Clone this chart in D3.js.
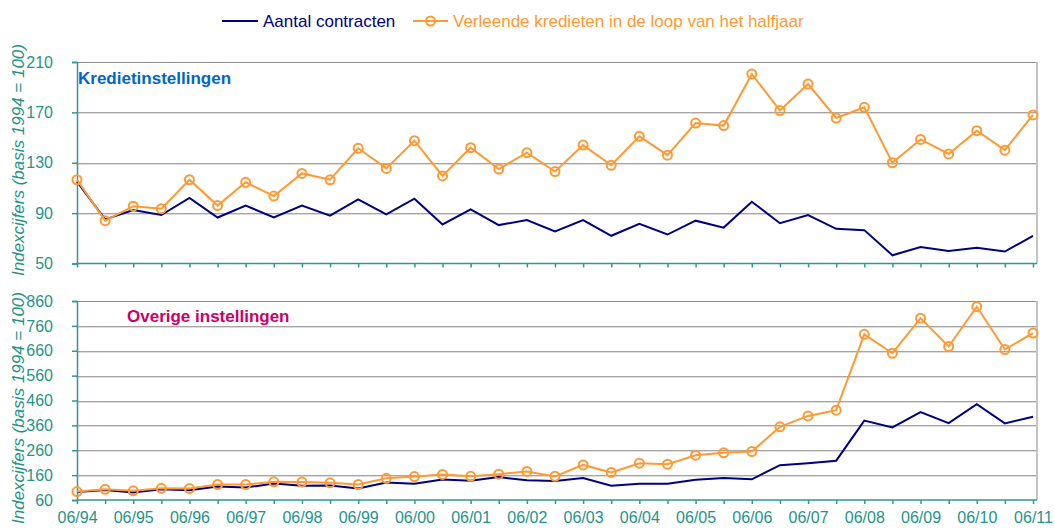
<!DOCTYPE html>
<html>
<head>
<meta charset="utf-8">
<script src="https://cdn.jsdelivr.net/npm/d3@7"></script>
<style>
  body { margin: 0; background: #fff; }
  svg { font-family: "Liberation Sans", Arial, sans-serif; }
  .tick text { fill: #1f9488; font-size: 16px; }
</style>
</head>
<body>
<div id="chart"></div>
<script>
// half-year periods
var periods = ["06/94","12/94","06/95","12/95","06/96","12/96","06/97","12/97","06/98","12/98",
  "06/99","12/99","06/00","12/00","06/01","12/01","06/02","12/02","06/03","12/03",
  "06/04","12/04","06/05","12/05","06/06","12/06","06/07","12/07","06/08","12/08",
  "06/09","12/09","06/10","12/10","06/11"]

// Kredietinstellingen
var kredietContracten = [115, 85, 92.5, 88.5, 102, 86.5, 96, 86.5, 96, 88, 101, 89, 101.5, 81, 93, 80.5, 84.5,
  75.5, 84.5, 72, 81.5, 73, 84, 78.5, 99, 82, 88.5, 77.5, 76.5, 56.5, 63, 60, 62.5, 59.5, 72]
var kredietVerleend = [116.5, 84, 95.5, 93.5, 116.5, 96, 114.5, 103.5, 121.5, 116.5, 141.5, 125.5, 147.5, 119.5, 142, 125, 138,
  123, 144, 128, 151, 136, 161.5, 159.5, 200.5, 171.5, 192.5, 165.5, 174, 130, 148.5, 137, 155.5, 140, 168]

// Overige instellingen
var overigContracten = [92, 100, 90, 103, 99, 114, 110, 126, 117, 118, 106, 130, 125, 142, 137, 152, 139,
  136, 148, 117, 125, 125, 141, 148, 143, 200, 208, 218, 379, 352, 413, 369, 445, 368, 395]
var overigVerleend = [94, 103, 97, 107, 106, 122, 122, 133, 132, 129, 122, 147, 154, 163, 155, 164, 175,
  155, 201, 171, 208, 204, 240, 250, 255, 354, 398, 421, 726, 650, 791, 677, 837, 665, 731]

var topTicks = [50, 90, 130, 170, 210]
var bottomTicks = [60, 160, 260, 360, 460, 560, 660, 760, 860]

var blue = "#000080", orange = "#ff9933", teal = "#2e9990"

var width = 1055, height = 532
var plotLeft = 77, plotWidth = 960, xSpan = 956

var svg = d3.select("#chart").append("svg")
  .attr("width", width)
  .attr("height", height)

var x = d3.scalePoint()
  .domain(periods)
  .range([0, xSpan])

// legend
var legend = svg.append("g").attr("transform", "translate(222,21)")
legend.append("line").attr("x1", 0).attr("x2", 36).attr("y1", 0).attr("y2", 0)
  .attr("stroke", blue).attr("stroke-width", 2)
legend.append("text").attr("x", 41).attr("y", 6).attr("fill", blue)
  .style("font-size", "17px").text("Aantal contracten")
legend.append("line").attr("x1", 191).attr("x2", 226).attr("y1", 0).attr("y2", 0)
  .attr("stroke", orange).attr("stroke-width", 2)
legend.append("circle").attr("cx", 208.5).attr("cy", 0).attr("r", 4.5)
  .attr("fill", "none").attr("stroke", orange).attr("stroke-width", 2)
legend.append("text").attr("x", 231).attr("y", 6).attr("fill", orange)
  .style("font-size", "17px").text("Verleende kredieten in de loop van het halfjaar")

function drawPanel(opts) {
  var h = opts.height
  var y = d3.scaleLinear().domain(opts.domain).range([h, 0])

  var g = svg.append("g")
    .attr("transform", "translate(" + plotLeft + "," + opts.top + ")")

  // grid lines (excel style, with a light shadow)
  g.selectAll(".grid")
    .data(opts.ticks.slice(1))
  .enter().append("line")
    .attr("x1", 0).attr("x2", plotWidth)
    .attr("y1", d => Math.round(y(d)) + 0.5).attr("y2", d => Math.round(y(d)) + 0.5)
    .attr("stroke", d => d === opts.domain[1] ? "#8c8c8c" : "#a6a6a6")
  g.selectAll(".gridshadow")
    .data(opts.ticks.slice(1, -1))
  .enter().append("line")
    .attr("x1", 0).attr("x2", plotWidth)
    .attr("y1", d => Math.round(y(d)) + 1.5).attr("y2", d => Math.round(y(d)) + 1.5)
    .attr("stroke", "#dcdcdc")

  // right border
  g.append("line")
    .attr("x1", plotWidth).attr("x2", plotWidth).attr("y1", 0).attr("y2", h)
    .attr("stroke", "#c4c4c4").attr("stroke-width", 2)

  var yAxis = d3.axisLeft(y)
    .tickValues(opts.ticks)
    .tickSize(5)
    .tickPadding(19)
  var ya = g.append("g").call(yAxis)
  ya.selectAll("path, line").attr("stroke", teal).attr("stroke-width", 1.5)

  var xAxis = d3.axisBottom(x)
    .tickSize(4)
    .tickSizeOuter(0)
    .tickPadding(8)
    .tickFormat((d, i) => opts.labels && i % 2 === 0 ? d : "")
  var xa = g.append("g")
    .attr("transform", "translate(0," + h + ")")
    .call(xAxis)
  xa.select(".domain").attr("d", "M0,0H" + plotWidth)
  xa.selectAll("path, line").attr("stroke", teal).attr("stroke-width", 1.5)

  var line = d3.line()
    .x((d, i) => x(periods[i]))
    .y(d => y(d))

  g.append("path")
    .datum(opts.contracten)
    .attr("fill", "none")
    .attr("stroke", blue)
    .attr("stroke-width", 2)
    .attr("d", line)

  g.append("path")
    .datum(opts.verleend)
    .attr("fill", "none")
    .attr("stroke", orange)
    .attr("stroke-width", 2)
    .attr("d", line)

  g.selectAll(".dot")
    .data(opts.verleend)
  .enter().append("circle")
    .attr("cx", (d, i) => x(periods[i]))
    .attr("cy", d => y(d))
    .attr("r", 4.5)
    .attr("fill", "none")
    .attr("stroke", orange)
    .attr("stroke-width", 2)

  g.append("text")
    .attr("x", opts.titleX)
    .attr("y", opts.titleY)
    .attr("fill", opts.titleColor)
    .style("font-size", "17px")
    .style("font-weight", "bold")
    .text(opts.title)

  svg.append("text")
    .attr("transform", "translate(24," + opts.labelY + ") rotate(-90)")
    .attr("text-anchor", "middle")
    .attr("fill", "#1f9488")
    .style("font-size", "17px")
    .style("font-style", "italic")
    .text("Indexcijfers (basis 1994 = 100)")
}

drawPanel({
  top: 62, height: 201.5, domain: [50, 210], ticks: topTicks,
  contracten: kredietContracten, verleend: kredietVerleend,
  title: "Kredietinstellingen", titleColor: "#0066cc", titleX: 1, titleY: 22,
  labelY: 160, labels: false
})

drawPanel({
  top: 301, height: 199, domain: [60, 860], ticks: bottomTicks,
  contracten: overigContracten, verleend: overigVerleend,
  title: "Overige instellingen", titleColor: "#cc0066", titleX: 50, titleY: 21,
  labelY: 408, labels: true
})
</script>
</body>
</html>
